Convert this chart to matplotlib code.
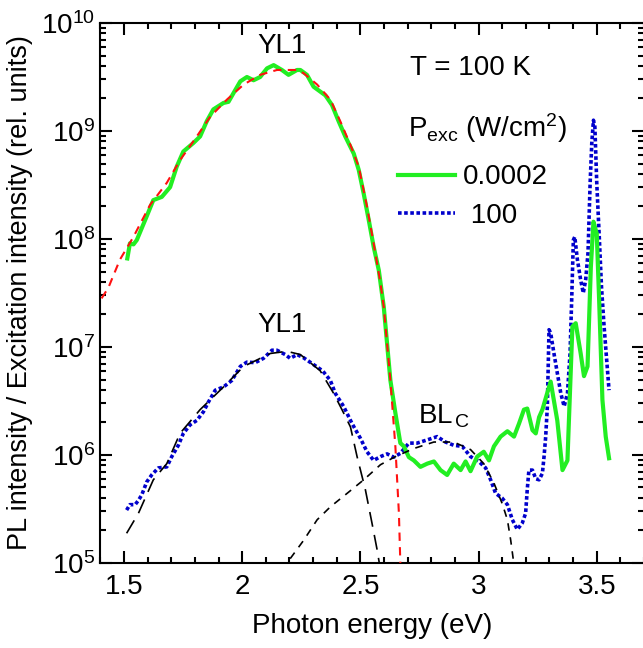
import numpy as np
import matplotlib
matplotlib.use('Agg')
import matplotlib.pyplot as plt
from matplotlib.ticker import LogLocator, MultipleLocator, NullFormatter

plt.rcParams['font.family'] = ['Liberation Sans', 'DejaVu Sans']
plt.rcParams['mathtext.fontset'] = 'custom'
plt.rcParams['mathtext.rm'] = 'Liberation Sans'
plt.rcParams['mathtext.it'] = 'Liberation Sans:italic'
plt.rcParams['mathtext.bf'] = 'Liberation Sans:bold'

# ---- data (energy in eV, intensity as log10) ----
green_x = [1.514, 1.525, 1.540, 1.554, 1.575, 1.596, 1.624, 1.660, 1.695, 1.723,
           1.751, 1.794, 1.822, 1.850, 1.878, 1.921, 1.942, 1.963, 1.992, 2.020,
           2.048, 2.076, 2.105, 2.133, 2.168, 2.196, 2.232, 2.246, 2.274, 2.302,
           2.352, 2.380, 2.408, 2.436, 2.472, 2.493, 2.514, 2.535, 2.556, 2.578,
           2.599, 2.627, 2.648, 2.669, 2.684, 2.705, 2.726, 2.754, 2.783, 2.811,
           2.839, 2.867, 2.895, 2.924, 2.945, 2.966, 2.994, 3.022, 3.044, 3.065,
           3.093, 3.122, 3.150, 3.171, 3.192, 3.206, 3.228, 3.242, 3.256, 3.270,
           3.290, 3.305, 3.333, 3.355, 3.376, 3.397, 3.411, 3.432, 3.446, 3.461,
           3.475, 3.486, 3.500, 3.510, 3.524, 3.538, 3.552]
green_log = [7.82, 7.96, 7.95, 7.99, 8.10, 8.21, 8.36, 8.39, 8.48, 8.67,
             8.81, 8.89, 8.95, 9.09, 9.20, 9.26, 9.27, 9.35, 9.46, 9.50,
             9.47, 9.50, 9.58, 9.61, 9.565, 9.52, 9.565, 9.565, 9.52, 9.41,
             9.33, 9.24, 9.09, 8.95, 8.79, 8.64, 8.42, 8.18, 7.93, 7.71,
             7.37, 6.69, 6.39, 6.11, 6.08, 5.98, 5.95, 5.89, 5.92, 5.94,
             5.86, 5.815, 5.92, 5.86, 5.94, 5.85, 5.985, 6.03, 5.95, 6.08,
             6.17, 6.22, 6.17, 6.29, 6.42, 6.43, 6.23, 6.20, 6.35, 6.42,
             6.57, 6.68, 6.32, 5.86, 5.95, 7.19, 7.22, 6.94, 6.73, 6.82,
             7.74, 8.16, 8.05, 7.44, 6.51, 6.17, 5.97]

blue_x = [1.511, 1.525, 1.547, 1.561, 1.575, 1.596, 1.617, 1.645, 1.681, 1.702,
          1.730, 1.751, 1.780, 1.808, 1.836, 1.857, 1.886, 1.921, 1.956, 1.992,
          2.020, 2.055, 2.090, 2.126, 2.147, 2.182, 2.203, 2.232, 2.260, 2.300,
          2.340, 2.373, 2.394, 2.429, 2.465, 2.500, 2.528, 2.556, 2.585, 2.613,
          2.641, 2.669, 2.705, 2.740, 2.783, 2.825, 2.860, 2.895, 2.931, 2.966,
          3.001, 3.030, 3.051, 3.072, 3.100, 3.122, 3.143, 3.164, 3.185, 3.199,
          3.206, 3.213, 3.228, 3.242, 3.256, 3.270, 3.277, 3.284, 3.291, 3.298,
          3.305, 3.319, 3.333, 3.348, 3.362, 3.376, 3.387, 3.394, 3.401, 3.407,
          3.418, 3.432, 3.443, 3.453, 3.463, 3.472, 3.479, 3.486, 3.492, 3.500,
          3.510, 3.520, 3.531, 3.542, 3.552]
blue_log = [5.49, 5.54, 5.54, 5.58, 5.63, 5.75, 5.815, 5.88, 5.89, 5.985,
            6.09, 6.20, 6.28, 6.32, 6.40, 6.49, 6.60, 6.63, 6.69, 6.82,
            6.86, 6.855, 6.895, 6.97, 6.97, 6.93, 6.895, 6.93, 6.90, 6.84,
            6.78, 6.69, 6.57, 6.45, 6.29, 6.155, 6.03, 5.95, 5.985, 6.01,
            5.98, 6.015, 6.11, 6.11, 6.14, 6.17, 6.12, 6.09, 6.08, 5.985,
            5.94, 5.88, 5.77, 5.645, 5.60, 5.54, 5.40, 5.31, 5.37, 5.46,
            5.68, 5.86, 5.86, 5.78, 5.77, 5.83, 5.985, 6.17, 6.45, 7.16,
            7.13, 6.94, 6.76, 6.57, 6.45, 6.57, 6.94, 7.44, 7.99, 8.02,
            7.81, 7.62, 7.50, 7.62, 7.87, 8.52, 8.89, 9.10, 9.04, 8.52,
            8.05, 7.56, 7.19, 6.88, 6.60]

# YL1 fit of the low-power spectrum
red_x = [1.405, 1.434, 1.483, 1.540, 1.610, 1.681, 1.737, 1.808, 1.864, 1.935,
         2.006, 2.076, 2.147, 2.232, 2.260, 2.317, 2.373, 2.415, 2.458, 2.493,
         2.528, 2.556, 2.585, 2.599, 2.627, 2.648, 2.663, 2.669]
red_log = [7.45, 7.55, 7.81, 8.02, 8.315, 8.52, 8.73, 8.95, 9.13, 9.29,
           9.43, 9.52, 9.565, 9.565, 9.535, 9.43, 9.29, 9.09, 8.87, 8.67,
           8.30, 7.96, 7.59, 7.37, 6.69, 6.08, 5.46, 5.00]

# YL1 fit of the high-power spectrum
yl_x = [1.511, 1.561, 1.624, 1.681, 1.737, 1.822, 1.921, 2.006, 2.119, 2.189,
        2.246, 2.330, 2.387, 2.422, 2.458, 2.486, 2.521, 2.549, 2.571, 2.580]
yl_log = [5.275, 5.46, 5.77, 5.92, 6.20, 6.42, 6.63, 6.82, 6.94, 6.96,
          6.93, 6.78, 6.57, 6.42, 6.26, 5.985, 5.68, 5.37, 5.12, 5.00]

# BL_C fit of the high-power spectrum
bl_x = [2.203, 2.260, 2.317, 2.373, 2.444, 2.514, 2.585, 2.648, 2.726, 2.811,
        2.895, 2.966, 3.022, 3.065, 3.100, 3.122, 3.136, 3.147]
bl_log = [5.04, 5.21, 5.40, 5.52, 5.645, 5.77, 5.91, 5.985, 6.06, 6.12,
          6.12, 6.05, 5.92, 5.74, 5.55, 5.40, 5.21, 5.03]

x_ticks = [1.5, 2, 2.5, 3, 3.5]
x_ticklabels = ['1.5', '2', '2.5', '3', '3.5']

fs = 20
fig = plt.figure(figsize=(6.43, 6.48), dpi=100)
ax = fig.add_axes([0.1561, 0.1312, 0.8455, 0.8333])

l_blue, = ax.plot(blue_x, 10**np.array(blue_log), color='#0000cc', lw=2.6,
                  ls=(0, (1.0, 0.7)), label=' 100', zorder=2)
l_green, = ax.plot(green_x, 10**np.array(green_log), color='#22ee22', lw=3.0,
                   label='0.0002', zorder=3)
ax.plot(red_x, 10**np.array(red_log), color='#ff1010', lw=1.5,
        ls=(0, (4, 3)), zorder=4)
ax.plot(yl_x, 10**np.array(yl_log), color='k', lw=1.2,
        ls=(0, (9, 5)), zorder=4)
ax.plot(bl_x, 10**np.array(bl_log), color='k', lw=1.2,
        ls=(0, (4.5, 4)), zorder=4)

ax.set_yscale('log')
ax.set_xlim(1.4, 3.7)
ax.set_ylim(1e5, 1e10)
ax.set_xticks(x_ticks)
ax.set_xticklabels(x_ticklabels)
ax.xaxis.set_minor_locator(MultipleLocator(0.1))
ax.yaxis.set_major_locator(LogLocator(base=10, numticks=10))
ax.yaxis.set_minor_locator(LogLocator(base=10, subs=np.arange(2, 10), numticks=10))
ax.yaxis.set_minor_formatter(NullFormatter())
ax.tick_params(which='both', direction='in', top=True, right=True, width=1.5,
               labelsize=fs)
ax.tick_params(which='major', length=8.5)
ax.tick_params(which='minor', length=4.5)
ax.tick_params(axis='x', pad=8)
ax.tick_params(axis='y', pad=4)
for s in ax.spines.values():
    s.set_linewidth(1.5)

ax.set_xlabel('Photon energy (eV)', fontsize=fs, labelpad=9)
ax.set_ylabel('PL intensity / Excitation intensity (rel. units)', fontsize=19.5)
ax.yaxis.set_label_coords(-0.124, 0.5)

ax.text(2.17, 10**9.79, 'YL1', fontsize=fs, ha='center', va='center')
ax.text(2.17, 10**7.20, 'YL1', fontsize=fs, ha='center', va='center')
ax.text(2.855, 10**6.36, r'BL$_{\,\mathrm{C}}$', fontsize=fs, ha='center', va='center')
ax.text(0.5695, 0.9037, 'T = 100 K', fontsize=fs, ha='left', va='baseline',
        transform=ax.transAxes)
ax.text(0.566, 0.789, r'P$_{\mathrm{exc}}$ (W/cm$^{2}$)', fontsize=fs,
        ha='left', va='baseline', transform=ax.transAxes)

leg = ax.legend(handles=[l_green, l_blue], loc='upper left',
                bbox_to_anchor=(0.547, 0.738), frameon=False,
                fontsize=fs, handlelength=2.05, handletextpad=0.29,
                labelspacing=0.45, borderpad=0.0, borderaxespad=0.0)

fig.savefig('out.png', dpi=100)
